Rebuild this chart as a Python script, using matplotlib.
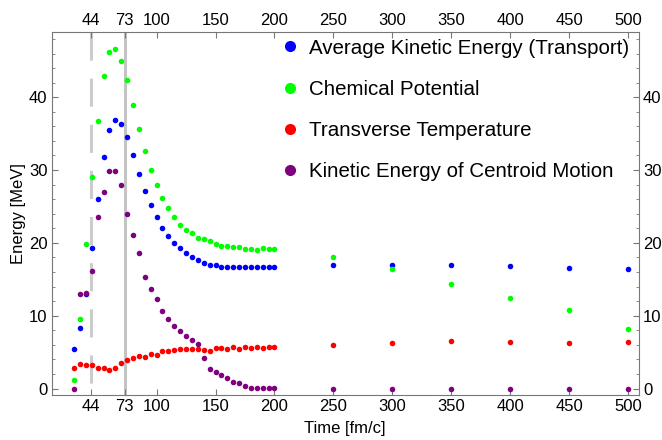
import numpy as np
import matplotlib
matplotlib.use('Agg')
from matplotlib import pyplot as plt
from matplotlib.ticker import MultipleLocator

plt.rcParams['font.family'] = ['Liberation Sans', 'DejaVu Sans']

# time grid [fm/c]
time = [30, 35, 40, 45, 50, 55, 60, 65, 70, 75, 80, 85, 90, 95, 100,
        105, 110, 115, 120, 125, 130, 135, 140, 145, 150, 155, 160, 165,
        170, 175, 180, 185, 190, 195, 200, 250, 300, 350, 400, 450, 500]

# energies [MeV]
kin_transport = [5.5, 8.3, 13.0, 19.3, 26.0, 31.8, 35.55, 36.9, 36.3, 34.5,
                 32.0, 29.45, 27.1, 25.2, 23.5, 22.1, 21.0, 20.05, 19.3, 18.6,
                 18.1, 17.7, 17.3, 17.0, 16.9, 16.75, 16.75, 16.7, 16.65, 16.65,
                 16.65, 16.7, 16.7, 16.75, 16.75,
                 17.0, 17.0, 17.0, 16.8, 16.57, 16.35]
chem_pot = [1.15, 9.6, 19.8, 29.0, 36.8, 42.9, 46.2, 46.6, 45.0, 42.3,
            39.0, 35.6, 32.6, 30.0, 28.0, 26.2, 24.8, 23.6, 22.5, 21.8,
            21.3, 20.7, 20.5, 20.3, 19.9, 19.6, 19.6, 19.4, 19.4, 19.2,
            19.2, 19.0, 19.3, 19.1, 19.2,
            18.1, 16.35, 14.37, 12.5, 10.76, 8.19]
trans_temp = [2.84, 3.34, 3.2, 3.2, 2.88, 2.88, 2.61, 2.88, 3.57, 3.89,
              4.16, 4.49, 4.39, 4.71, 4.62, 5.17, 5.17, 5.26, 5.49, 5.44,
              5.4, 5.44, 5.3, 5.2, 5.6, 5.58, 5.49, 5.67, 5.44, 5.77,
              5.54, 5.67, 5.54, 5.77, 5.71,
              5.95, 6.32, 6.54, 6.45, 6.27, 6.36]
kin_centroid = [0.0, 12.95, 13.1, 16.15, 23.5, 27.0, 29.9, 29.9, 27.9, 23.9,
                21.1, 18.6, 15.3, 13.7, 12.3, 10.6, 9.6, 8.6, 7.97, 7.18,
                6.68, 6.08, 4.26, 2.65, 2.28, 1.87, 1.41, 0.91, 0.73, 0.36,
                0.14, 0.14, 0.14, 0.04, 0.04,
                0.0, 0.0, 0.0, 0.0, 0.0, 0.0]

xticks = [44, 73, 100, 150, 200, 250, 300, 350, 400, 450, 500]

fig = plt.figure(figsize=(6.62, 4.4), dpi=100)
ax = fig.add_axes([0.078, 0.102, 0.887, 0.826])

ymin, ymax = -0.9, 49.0
dl, = ax.plot([44, 44], [ymax, ymin], color='#cccccc', lw=2.2, zorder=1)
dl.set_dashes([9.2, 5.9])
ax.axvline(73, color='#c4c4c4', lw=2.2, zorder=1)

ax.plot(time, kin_transport, 'o', color='#0000ff', ms=4, mew=0,
        label='Average Kinetic Energy (Transport)')
ax.plot(time, chem_pot, 'o', color='#00ff00', ms=4, mew=0,
        label='Chemical Potential')
ax.plot(time, trans_temp, 'o', color='#ff0000', ms=4, mew=0,
        label='Transverse Temperature')
ax.plot(time, kin_centroid, 'o', color='#800080', ms=4, mew=0,
        label='Kinetic Energy of Centroid Motion')

ax.set_xlim(11, 509)
ax.set_ylim(ymin, ymax)
ax.set_xticks(xticks)
ax.yaxis.set_major_locator(MultipleLocator(10))
ax.yaxis.set_minor_locator(MultipleLocator(2))
ax.tick_params(axis='both', which='both', direction='in', top=True, right=True,
               labeltop=True, labelright=True, color='#777777', labelsize=12,
               pad=3)
ax.tick_params(which='major', length=4)
ax.tick_params(which='minor', length=2)
for s in ax.spines.values():
    s.set_color('#777777')

ax.set_xlabel('Time [fm/c]', fontsize=12, labelpad=5)
ax.set_ylabel('Energy [MeV]', fontsize=12, labelpad=2)

leg = ax.legend(loc='upper left', bbox_to_anchor=(0.388, 0.981), frameon=False,
                fontsize=14.8, markerscale=2.0, handletextpad=0.45,
                labelspacing=1.08, handlelength=1.0, borderpad=0,
                borderaxespad=0)

fig.savefig('out.png', dpi=100)
